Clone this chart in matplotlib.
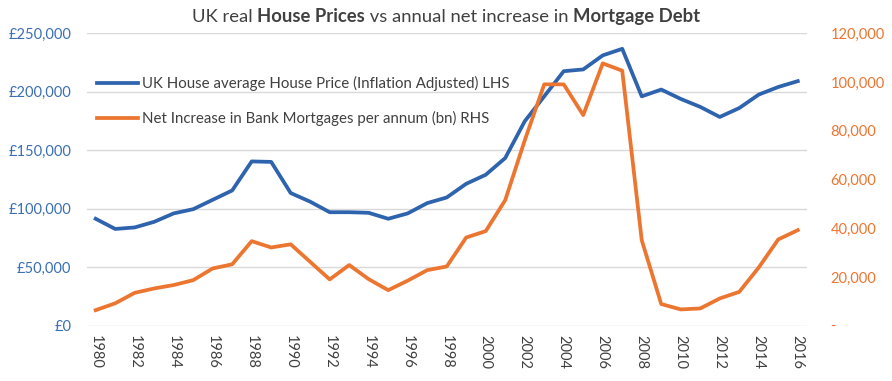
import matplotlib.pyplot as plt
from matplotlib.offsetbox import TextArea, HPacker, AnchoredOffsetbox
from matplotlib.ticker import FuncFormatter

plt.rcParams["font.family"] = ["Lato", "DejaVu Sans"]

# ─── DATA ──────────────────────────────────────────────────────────────────
years = list(range(1980, 2017))
house_price = [91400, 82700, 84000, 88800, 96000, 99600, 107600, 115600, 140400, 140000,
               113400, 106000, 97000, 97000, 96500, 91400, 96000, 104800, 109600, 121300,
               129000, 143300, 174700, 196000, 217500, 219000, 231000, 236600, 196000, 201800,
               193800, 187000, 178400, 186000, 197500, 204000, 209000]
mortgage_inc = [6400, 9200, 13500, 15300, 16700, 18700, 23500, 25200, 34700, 32100,
                33400, 26200, 19000, 24900, 19100, 14600, 18500, 22800, 24300, 36200,
                38800, 51500, 76000, 99000, 99000, 86400, 107600, 104600, 35100, 8900,
                6700, 7100, 11200, 13900, 23900, 35400, 39200]
xtick_years = list(range(1980, 2017, 2))

BLUE = "#2e63ad"
BLUE_TXT = "#3a6fb5"
ORANGE = "#ec7530"
GRID = "#d9d9d9"
TXT = "#404040"

fig = plt.figure(figsize=(8.92, 3.81), dpi=100)
ax = fig.add_axes([0.0972, 0.145, 0.8072, 0.768])
ax2 = ax.twinx()

l1, = ax.plot(years, house_price, color=BLUE, lw=2.7, solid_joinstyle="round",
              label="UK House average House Price (Inflation Adjusted) LHS", zorder=3)
l2, = ax2.plot(years, mortgage_inc, color=ORANGE, lw=2.7, solid_joinstyle="round",
               label="Net Increase in Bank Mortgages per annum (bn) RHS", zorder=3)

ax.set_xlim(1979.54, 2016.46)
ax.set_ylim(0, 250000)
ax2.set_ylim(0, 120000)
ax.set_yticks(range(0, 250001, 50000))
ax2.set_yticks(range(0, 120001, 20000))
ax.yaxis.set_major_formatter(FuncFormatter(lambda v, p: f"£{v:,.0f}"))
ax2.yaxis.set_major_formatter(FuncFormatter(lambda v, p: "-" if v == 0 else f"{v:,.0f}"))
ax.set_xticks(xtick_years)
ax.set_xticklabels([str(y) for y in xtick_years], rotation=-90, fontsize=10.5, color=TXT)

ax.grid(axis="y", color=GRID, lw=1.0)
ax.set_axisbelow(True)
for a in (ax, ax2):
    for s in a.spines.values():
        s.set_visible(False)
ax.tick_params(axis="both", length=0)
ax2.tick_params(axis="y", length=0, pad=17)
ax.tick_params(axis="y", labelsize=10.5, labelcolor=BLUE_TXT, pad=11)
ax.tick_params(axis="x", pad=7)
ax2.tick_params(axis="y", labelsize=10.5, labelcolor=ORANGE)

leg = ax2.legend(handles=[l1, l2], loc="upper left", bbox_to_anchor=(0.0, 0.89),
                 frameon=False, fontsize=10.8, handlelength=2.7, handletextpad=0.3,
                 labelspacing=1.35, borderaxespad=0.3)
for t in leg.get_texts():
    t.set_color(TXT)

# title with mixed weights
parts = [("UK real ", "normal"), ("House Prices", "bold"), (" vs annual net increase in ", "normal"),
         ("Mortgage Debt", "bold")]
boxes = [TextArea(s, textprops=dict(fontsize=13.3, fontweight=w, color=TXT, family=["Lato", "DejaVu Sans"]))
         for s, w in parts]
pack = HPacker(children=boxes, align="baseline", pad=0, sep=0)
title = AnchoredOffsetbox(loc="center", child=pack, frameon=False,
                          bbox_to_anchor=(0.5, 0.958), bbox_transform=fig.transFigure, pad=0, borderpad=0)
fig.add_artist(title)

fig.savefig("out.png", dpi=100)
